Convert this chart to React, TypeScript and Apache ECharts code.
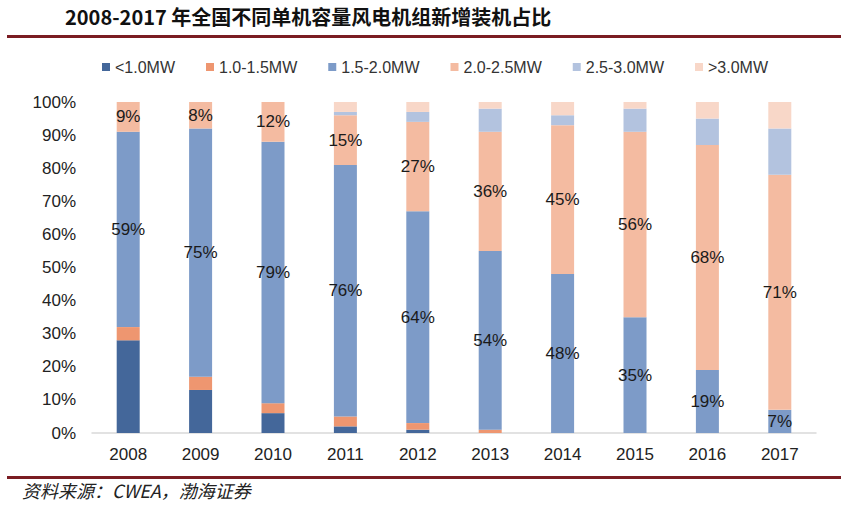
import React, { useEffect, useRef } from "react";
import * as echarts from "echarts";

const years = ["2008", "2009", "2010", "2011", "2012", "2013", "2014", "2015", "2016", "2017"];
const seriesNames = ["<1.0MW", "1.0-1.5MW", "1.5-2.0MW", "2.0-2.5MW", "2.5-3.0MW", ">3.0MW"];
const below10 = [28, 13, 6, 2, 1, 0, 0, 0, 0, 0];
const from10to15 = [4, 4, 3, 3, 2, 1, 0, 0, 0, 0];
const from15to20 = [59, 75, 79, 76, 64, 54, 48, 35, 19, 7];
const from20to25 = [9, 8, 12, 15, 27, 36, 45, 56, 68, 71];
const from25to30 = [0, 0, 0, 1, 3, 7, 3, 7, 8, 14];
const above30 = [0, 0, 0, 3, 3, 2, 4, 2, 5, 8];
const yTicks = [0, 10, 20, 30, 40, 50, 60, 70, 80, 90, 100];

const colors = ["#44679A", "#EE9670", "#7D9BC8", "#F4BBA1", "#B3C3DF", "#F8D7C8"];
const labeled = [false, false, true, true, false, false];
const dataSets = [below10, from10to15, from15to20, from20to25, from25to30, above30];

export default function App() {
  const ref = useRef<HTMLDivElement>(null);
  useEffect(() => {
    if (!ref.current) return;
    const chart = echarts.init(ref.current, null, { renderer: "svg" });
    const font = "Liberation Sans, Arial, sans-serif";
    chart.setOption({
      animation: false,
      backgroundColor: "#ffffff",
      color: colors,
      legend: {
        top: 54,
        left: 97,
        itemWidth: 8,
        itemHeight: 8,
        itemGap: 31,
        icon: "rect",
        textStyle: { fontFamily: font, fontSize: 16, color: "#333" },
        data: seriesNames,
      },
      grid: { left: 92, right: 32, top: 102, bottom: 80, containLabel: false },
      xAxis: {
        type: "category",
        data: years,
        axisLine: { lineStyle: { color: "#D9D9D9", width: 1.5 } },
        axisTick: { show: false },
        axisLabel: { fontFamily: font, fontSize: 17, color: "#222", margin: 13 },
      },
      yAxis: {
        type: "value",
        min: yTicks[0],
        max: yTicks[yTicks.length - 1],
        interval: 10,
        splitLine: { show: false },
        axisLine: { show: false },
        axisTick: { show: false },
        axisLabel: {
          fontFamily: font,
          fontSize: 17,
          color: "#222",
          margin: 16,
          formatter: "{value}%",
        },
      },
      graphic: [
        {
          type: "text",
          left: 65,
          top: 6,
          style: {
            text: "2008-2017 年全国不同单机容量风电机组新增装机占比",
            font: "bold 20px 'Noto Sans CJK SC', sans-serif",
            fill: "#111",
          },
        },
        {
          type: "rect",
          shape: { x: 7, y: 35, width: 834, height: 3 },
          style: { fill: "#7A1C22" },
        },
        {
          type: "rect",
          shape: { x: 7, y: 476, width: 834, height: 3 },
          style: { fill: "#7A1C22" },
        },
        {
          type: "text",
          left: 22,
          top: 481,
          style: {
            text: "资料来源：CWEA，渤海证券",
            font: "italic 18px 'Noto Sans CJK SC', 'Liberation Sans', sans-serif",
            fill: "#222",
          },
        },
      ],
      series: seriesNames.map((name, i) => ({
        name,
        type: "bar",
        stack: "total",
        barWidth: 23,
        data: dataSets[i],
        itemStyle: { color: colors[i] },
        label: {
          show: labeled[i],
          position: "inside",
          formatter: "{c}%",
          fontFamily: font,
          fontSize: 17,
          color: "#1a1a1a",
        },
      })),
    });
    return () => chart.dispose();
  }, []);
  return <div ref={ref} style={{ width: 848, height: 513, position: "absolute", left: 0, top: 0 }} />;
}
